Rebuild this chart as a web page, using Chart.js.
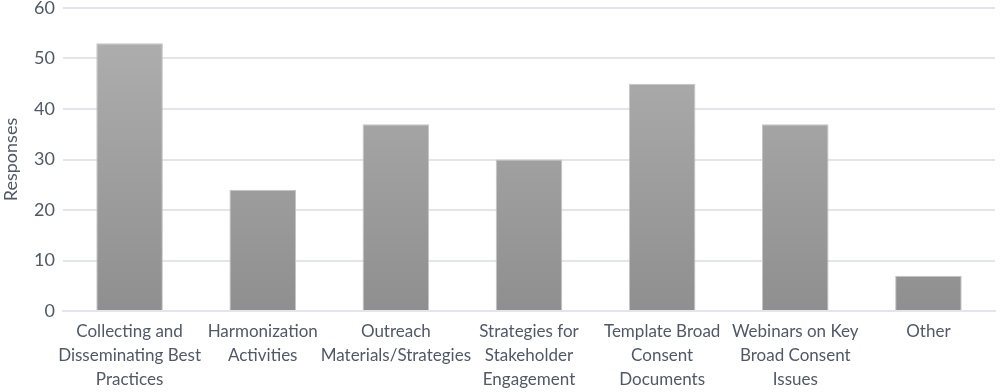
<!DOCTYPE html>
<html>
<head>
<meta charset="utf-8">
<script src="https://cdn.jsdelivr.net/npm/chart.js@4"></script>
<style>
  html, body { margin: 0; padding: 0; background: #fff; }
  #wrap { width: 1001px; height: 392px; }
</style>
</head>
<body>
<div id="wrap"><canvas id="bar-chart"></canvas></div>
<script>
// Data
const categories = [
  ["Collecting and", "Disseminating Best", "Practices"],
  ["Harmonization", "Activities"],
  ["Outreach", "Materials/Strategies"],
  ["Strategies for", "Stakeholder", "Engagement"],
  ["Template Broad", "Consent", "Documents"],
  ["Webinars on Key", "Broad Consent", "Issues"],
  ["Other"]
];
const responses = [53, 24, 37, 30, 45, 37, 7];
const yTicks = [0, 10, 20, 30, 40, 50, 60];

const textColor = '#4f5968';
const gridColor = '#e2e5ea';

// vertical grey gradient, lighter on top
function barFill(context) {
  const chart = context.chart;
  const area = chart.chartArea;
  if (!area) return '#a0a0a0';
  const g = chart.ctx.createLinearGradient(0, area.top, 0, area.bottom);
  g.addColorStop(0, '#b1b1b1');
  g.addColorStop(1, '#8f8f8f');
  return g;
}

const ctx = document.getElementById('bar-chart').getContext('2d');
const chart = new Chart(ctx, {
  type: 'bar',
  data: {
    labels: categories,
    datasets: [{
      data: responses,
      backgroundColor: barFill,
      borderColor: '#c4c4c4',
      borderWidth: 1,
      categoryPercentage: 1,
      barPercentage: 0.5
    }]
  },
  options: {
    responsive: true,
    maintainAspectRatio: false,
    animation: false,
    layout: { padding: { top: 8, right: 6, left: 0, bottom: 0 } },
    plugins: {
      legend: { display: false },
      tooltip: { enabled: false }
    },
    scales: {
      x: {
        grid: { display: false, drawTicks: false },
        border: { display: true, color: gridColor, width: 2 },
        ticks: {
          color: textColor,
          font: { family: 'Lato', size: 17, lineHeight: 1.42 },
          maxRotation: 0,
          autoSkip: false,
          padding: 8
        },
        afterFit: (scale) => { scale.height = 81; }
      },
      y: {
        min: 0,
        max: 60,
        afterBuildTicks: (scale) => { scale.ticks = yTicks.map(v => ({ value: v })); },
        grid: { color: gridColor, lineWidth: 2, drawTicks: false },
        border: { display: false },
        title: {
          display: true,
          text: 'Responses',
          color: textColor,
          font: { family: 'Lato', size: 18 },
          padding: { top: 0, bottom: 4 }
        },
        ticks: {
          color: textColor,
          font: { family: 'Lato', size: 18 },
          padding: 8
        },
        afterFit: (scale) => {
          scale.width = 63;
          scale.paddingTop = 0;
          scale.paddingBottom = 0;
        }
      }
    }
  }
});
</script>
</body>
</html>
